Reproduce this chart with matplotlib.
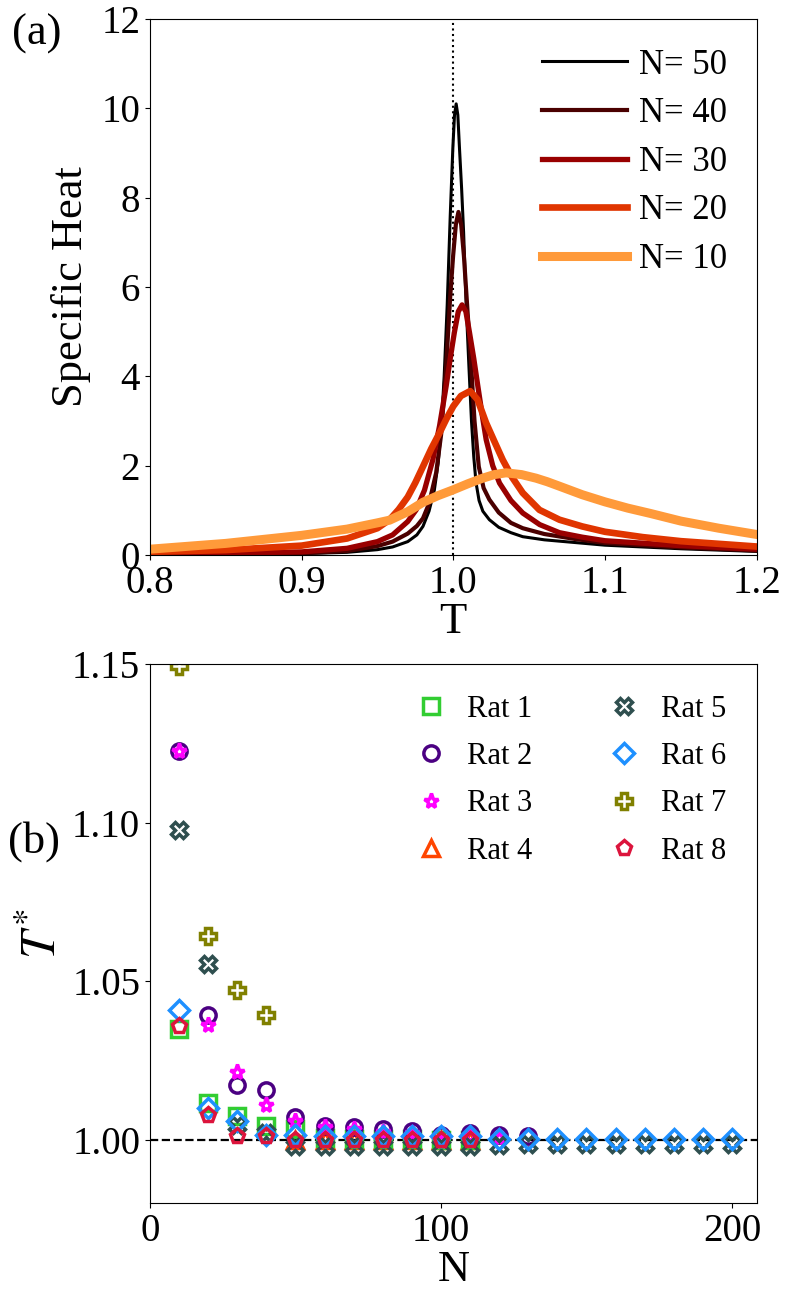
import numpy as np
import matplotlib.pyplot as plt

plt.rcParams['font.family'] = ['Liberation Serif', 'DejaVu Serif']
plt.rcParams['mathtext.fontset'] = 'stix'

# panel (a): specific heat
T50 = [0.80, 0.85, 0.90, 0.93, 0.95, 0.96, 0.97, 0.976, 0.98, 0.984, 0.9875, 0.990, 0.992,
       0.994, 0.996, 0.998, 0.9997, 1.0008, 1.0019, 1.003, 1.0041, 1.0055, 1.0068, 1.0085,
       1.0103, 1.012, 1.0135, 1.015, 1.017, 1.0195, 1.0238, 1.030, 1.038, 1.0458, 1.06,
       1.08, 1.10, 1.15, 1.20]
C50 = [0.0, 0.01, 0.03, 0.06, 0.12, 0.18, 0.30, 0.45, 0.64, 0.98, 1.45, 2.05, 2.80,
       4.00, 5.60, 7.60, 9.10, 9.85, 10.10, 9.85, 9.10, 8.20, 7.23, 5.60,
       4.23, 3.00, 2.20, 1.62, 1.22, 0.98, 0.79, 0.62, 0.50, 0.41, 0.34,
       0.28, 0.22, 0.14, 0.08]
T40 = [0.80, 0.85, 0.90, 0.93, 0.95, 0.96, 0.97, 0.976, 0.98, 0.984, 0.9887, 0.992, 0.9953,
       0.998, 0.9999, 1.0017, 1.0034, 1.0052, 1.0070, 1.0095, 1.0118, 1.014, 1.0168, 1.020,
       1.0238, 1.030, 1.038, 1.0458, 1.06, 1.08, 1.10, 1.15, 1.20]
C40 = [0.0, 0.02, 0.04, 0.09, 0.20, 0.30, 0.48, 0.65, 0.82, 1.15, 1.84, 2.70, 4.23,
       5.80, 6.70, 7.40, 7.68, 7.40, 6.70, 5.40, 4.23, 3.00, 1.98, 1.50,
       1.24, 0.95, 0.72, 0.60, 0.47, 0.36, 0.27, 0.17, 0.10]
T30 = [0.80, 0.85, 0.90, 0.93, 0.95, 0.96, 0.97, 0.9755, 0.981, 0.9865, 0.991, 0.9953, 0.998,
       1.0007, 1.0033, 1.0058, 1.0083, 1.0107, 1.0135, 1.0162, 1.019, 1.0217, 1.026, 1.0305,
       1.038, 1.0458, 1.057, 1.07, 1.085, 1.10, 1.15, 1.20]
C30 = [0.015, 0.04, 0.07, 0.15, 0.30, 0.45, 0.75, 1.01, 1.45, 2.13, 2.90, 3.78, 4.40,
       4.98, 5.45, 5.60, 5.45, 4.98, 4.40, 3.78, 3.15, 2.58, 2.00, 1.61,
       1.22, 0.94, 0.68, 0.50, 0.40, 0.32, 0.21, 0.13]
T20 = [0.80, 0.85, 0.90, 0.93, 0.95, 0.958, 0.964, 0.97, 0.975, 0.98, 0.9855, 0.9909, 0.9955,
       1.0, 1.005, 1.0111, 1.016, 1.0216, 1.027, 1.0326, 1.039, 1.0458, 1.0568, 1.07, 1.085,
       1.10, 1.125, 1.15, 1.20]
C20 = [0.07, 0.11, 0.21, 0.37, 0.60, 0.79, 1.02, 1.30, 1.62, 1.98, 2.38, 2.73, 3.05,
       3.33, 3.56, 3.67, 3.48, 2.96, 2.55, 2.13, 1.73, 1.39, 1.01, 0.79, 0.64,
       0.52, 0.40, 0.31, 0.19]
T10 = [0.80, 0.85, 0.90, 0.93, 0.95, 0.958, 0.97, 0.98, 0.99, 1.0, 1.01, 1.0194, 1.027,
       1.0348, 1.045, 1.0546, 1.062, 1.07, 1.085, 1.10, 1.115, 1.13, 1.15, 1.175, 1.20]
C10 = [0.13, 0.26, 0.44, 0.58, 0.72, 0.78, 0.97, 1.18, 1.33, 1.46, 1.60, 1.72, 1.80,
       1.84, 1.80, 1.72, 1.64, 1.54, 1.35, 1.19, 1.05, 0.93, 0.76, 0.60, 0.46]

# panel (b): T* per rat
N1 = [10, 20, 30, 40, 50, 60, 70, 80, 90, 100, 110]
R1 = [1.035, 1.0114, 1.0074, 1.0042, 1.0032, 1.0005, 1.0003, 1.0002, 1.0001, 1.0, 1.0]
N2 = [10, 20, 30, 40, 50, 60, 70, 80, 90, 100, 110, 120, 130]
R2 = [1.1225, 1.0392, 1.0172, 1.0158, 1.0072, 1.0044, 1.0039, 1.0032, 1.0026, 1.0016,
      1.0021, 1.0015, 1.0012]
N3 = [10, 20, 30, 40, 50, 60, 70, 80, 90, 100, 110, 120]
R3 = [1.1225, 1.036, 1.0212, 1.0108, 1.0058, 1.004, 1.0032, 1.0025, 1.002, 0.9995,
      1.0013, 1.0005]
N4 = [50, 60, 70, 80, 90, 100, 110]
R4 = [1.0, 1.0, 1.0, 1.0, 1.0, 1.0, 1.0]
N5 = [10, 20, 30, 40, 50, 60, 70, 80, 90, 100, 110, 120, 130, 140, 150, 160, 170, 180, 190, 200]
R5 = [1.0975, 1.0554, 1.0047, 1.002, 0.998, 0.998, 0.998, 0.998, 0.998, 0.998, 0.998,
      0.9984, 0.9985, 0.9985, 0.9985, 0.9985, 0.9985, 0.9985, 0.9985, 0.9985]
N6 = [10, 20, 30, 40, 50, 60, 70, 80, 90, 100, 110, 120, 130, 140, 150, 160, 170, 180, 190, 200]
R6 = [1.0409, 1.0101, 1.0058, 1.0016, 1.0016, 1.0013, 1.0013, 1.001, 1.001, 1.0013, 1.001,
      1.0002, 1.0002, 1.0002, 1.0002, 1.0002, 1.0002, 1.0002, 1.0002, 1.0002]
N7 = [10, 20, 30, 40]
R7 = [1.1494, 1.0642, 1.0473, 1.0392]
N8 = [10, 20, 30, 40, 50, 60, 70, 80, 90, 100, 110]
R8 = [1.0357, 1.0077, 1.001, 1.001, 1.0, 1.0, 1.0, 1.0, 1.0, 1.0, 1.0]

fig = plt.figure(figsize=(7.89, 13.01), dpi=100)
ax1 = fig.add_axes([0.190, 0.5734, 0.769, 0.412])
ax2 = fig.add_axes([0.190, 0.0753, 0.769, 0.4143])

# top panel
ax1.axvline(1.0, color='black', linestyle=':', linewidth=1.5)
ax1.plot(T50, C50, color='black', linewidth=2.2, label='N= 50')
ax1.plot(T40, C40, color='#4a0000', linewidth=3.0, label='N= 40')
ax1.plot(T30, C30, color='#990000', linewidth=3.8, label='N= 30')
ax1.plot(T20, C20, color='#e03500', linewidth=4.8, label='N= 20')
ax1.plot(T10, C10, color='#ff9a3a', linewidth=6.5, label='N= 10')
ax1.set_xlim(0.8, 1.2)
ax1.set_ylim(0, 12)
ax1.set_xticks([0.8, 0.9, 1.0, 1.1, 1.2])
ax1.set_yticks([0, 2, 4, 6, 8, 10, 12])
ax1.tick_params(labelsize=28)
ax1.set_xlabel('T', fontsize=32, labelpad=0)
ax1.set_ylabel('Specific Heat', fontsize=32, labelpad=7)
ax1.legend(loc='upper right', frameon=False, fontsize=25, handlelength=2.45,
           handletextpad=0.35, labelspacing=0.45, borderaxespad=0.45)

# bottom panel
ms = 11
mew = 2.5
ax2.axhline(1.0, color='black', linestyle='--', linewidth=1.6)
ax2.plot(N1, R1, 's', ls='none', mfc='none', mec='limegreen', ms=ms, mew=mew, label='Rat 1')
ax2.plot(N2, R2, 'o', ls='none', mfc='none', mec='indigo', ms=ms, mew=mew, label='Rat 2')
ax2.plot(N3, R3, '*', ls='none', mfc='none', mec='magenta', ms=ms, mew=mew, label='Rat 3')
ax2.plot(N4, R4, '^', ls='none', mfc='none', mec='orangered', ms=ms, mew=mew, label='Rat 4',
         zorder=1.5)
ax2.plot(N5, R5, 'X', ls='none', mfc='none', mec='darkslategray', ms=ms, mew=mew, label='Rat 5')
ax2.plot(N6, R6, 'D', ls='none', mfc='none', mec='dodgerblue', ms=ms - 1, mew=mew, label='Rat 6')
ax2.plot(N7, R7, 'P', ls='none', mfc='none', mec='olive', ms=ms, mew=mew, label='Rat 7')
ax2.plot(N8, R8, 'p', ls='none', mfc='none', mec='crimson', ms=ms, mew=mew, label='Rat 8')
ax2.set_xlim(0, 208.5)
ax2.set_ylim(0.98, 1.15)
ax2.set_xticks([0, 100, 200])
ax2.set_yticks([1.00, 1.05, 1.10, 1.15])
ax2.set_yticklabels(['1.00', '1.05', '1.10', '1.15'])
ax2.tick_params(labelsize=28)
ax2.set_xlabel('N', fontsize=32, labelpad=0)
ax2.set_ylabel('$T^{*}$', fontsize=36)
ax2.legend(loc='upper right', ncol=2, frameon=False, fontsize=22, handlelength=1.2,
           handletextpad=0.6, labelspacing=0.6, columnspacing=2.4, borderaxespad=0.6)

fig.text(0.015, 0.966, '(a)', fontsize=32)
fig.text(0.010, 0.345, '(b)', fontsize=32)

fig.savefig('out.png', dpi=100)
